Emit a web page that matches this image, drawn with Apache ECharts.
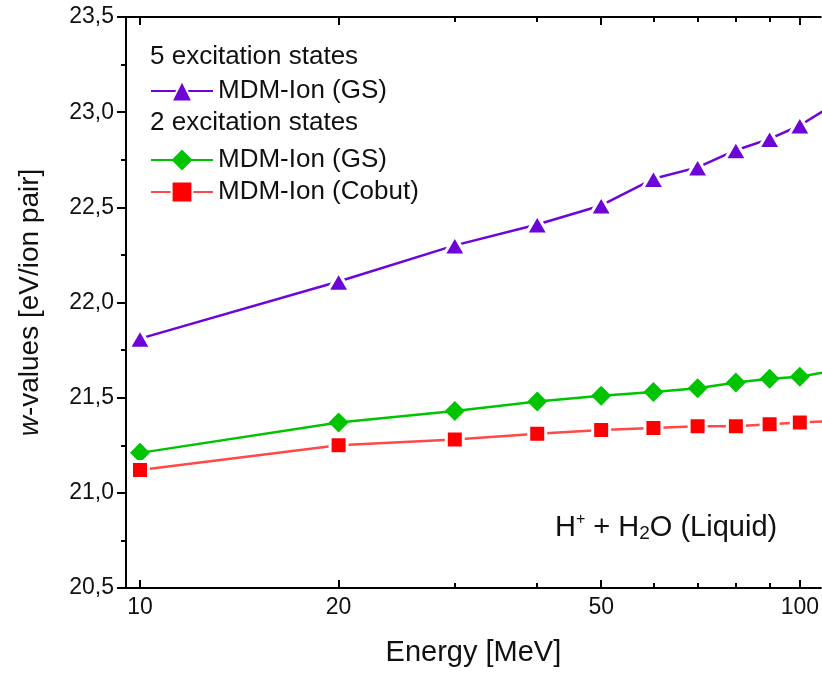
<!DOCTYPE html>
<html>
<head>
<meta charset="utf-8">
<script src="https://cdn.jsdelivr.net/npm/echarts@6/dist/echarts.min.js"></script>
<style>
  html, body { margin: 0; padding: 0; background: #fff; }
  #view { width: 822px; height: 677px; }
</style>
</head>
<body>
<div id="view"></div>
<script>
var energy = [10, 20, 30, 40, 50, 60, 70, 80, 90, 100, 120];
var gs5 = [21.81, 22.11, 22.30, 22.41, 22.51, 22.65, 22.71, 22.80, 22.86, 22.93, 23.10];
var gs2 = [21.21, 21.37, 21.43, 21.48, 21.51, 21.53, 21.55, 21.58, 21.60, 21.61, 21.66];
var cobut2 = [21.12, 21.25, 21.28, 21.31, 21.33, 21.34, 21.35, 21.35, 21.36, 21.37, 21.38];
var majorTicks = [10, 20, 50, 100];
var minorTicks = [30, 40, 60, 70, 80, 90];

var font = 'Liberation Sans, Arial, sans-serif';

function pairs(ys) {
    return energy.map(function (e, i) { return [e, ys[i]]; });
}

var xBase = {
    type: 'log',
    min: 9.524,
    max: 107.6,
    splitLine: { show: false },
    axisLine: { lineStyle: { color: '#000', width: 2 } }
};

option = {
    animation: false,
    grid: {
        left: 126,
        right: 0,
        top: 17,
        bottom: 89
    },
    legend: [{
        data: ['5 states: MDM-Ion (GS)'],
        left: 145,
        top: 73,
        orient: 'vertical',
        itemWidth: 62,
        itemHeight: 26,
        formatter: function (n) { return n.split(': ')[1]; },
        textStyle: { fontSize: 26, color: '#111', fontFamily: font }
    }, {
        data: ['2 states: MDM-Ion (GS)', '2 states: MDM-Ion (Cobut)'],
        left: 145,
        top: 142,
        orient: 'vertical',
        itemGap: 6,
        itemWidth: 62,
        itemHeight: 26,
        formatter: function (n) { return n.split(': ')[1]; },
        textStyle: { fontSize: 26, color: '#111', fontFamily: font }
    }],
    graphic: [
        { type: 'text', left: 150, top: 44, style: { text: '5 excitation states', fontSize: 26, fontFamily: font, fill: '#111' } },
        { type: 'text', left: 150, top: 110, style: { text: '2 excitation states', fontSize: 26, fontFamily: font, fill: '#111' } },
        {
            type: 'text', left: 555, top: 512,
            style: {
                text: 'H{sup|+} + H{sub|2}O (Liquid)',
                fontSize: 29, fontFamily: font, fill: '#111',
                rich: {
                    sup: { fontSize: 16, fontFamily: font, fill: '#111', verticalAlign: 'top', padding: [0, 0, 14, 0] },
                    sub: { fontSize: 19, fontFamily: font, fill: '#111', verticalAlign: 'bottom', padding: [12, 0, 0, 0] }
                }
            }
        }
    ],
    xAxis: [
        Object.assign({}, xBase, {
            position: 'bottom',
            name: 'Energy [MeV]',
            nameLocation: 'middle',
            nameGap: 50,
            nameTextStyle: { fontSize: 29, color: '#111', fontFamily: font },
            axisTick: { inside: true, length: 8, customValues: majorTicks, lineStyle: { color: '#000', width: 2 } },
            axisLabel: { customValues: majorTicks, fontSize: 23, color: '#111', fontFamily: font, margin: 8 }
        }),
        Object.assign({}, xBase, {
            position: 'bottom',
            axisLine: { show: false },
            axisTick: { inside: true, length: 5, customValues: minorTicks, lineStyle: { color: '#000', width: 2 } },
            axisLabel: { show: false }
        }),
        Object.assign({}, xBase, {
            position: 'top',
            axisTick: { inside: true, length: 8, customValues: majorTicks, lineStyle: { color: '#000', width: 2 } },
            axisLabel: { show: false }
        }),
        Object.assign({}, xBase, {
            position: 'top',
            axisLine: { show: false },
            axisTick: { inside: true, length: 5, customValues: minorTicks, lineStyle: { color: '#000', width: 2 } },
            axisLabel: { show: false }
        })
    ],
    yAxis: [{
        type: 'value',
        min: 20.5,
        max: 23.5,
        interval: 0.5,
        splitLine: { show: false },
        axisLine: { show: true, lineStyle: { color: '#000', width: 2 } },
        axisTick: { show: true, length: 9, lineStyle: { color: '#000', width: 2 } },
        minorTick: { show: true, splitNumber: 2, length: 5, lineStyle: { color: '#000', width: 2 } },
        axisLabel: {
            fontSize: 23, color: '#111', fontFamily: font, margin: 12,
            formatter: function (v) { return v.toFixed(1).replace('.', ','); }
        },
        name: '{i|w}-values [eV/ion pair]',
        nameLocation: 'middle',
        nameGap: 82,
        nameTextStyle: {
            fontSize: 28, color: '#111', fontFamily: font,
            rich: { i: { fontSize: 28, color: '#111', fontFamily: font, fontStyle: 'italic' } }
        }
    }],
    series: [{
        name: '5 states: MDM-Ion (GS)',
        type: 'line',
        symbol: 'triangle',
        symbolSize: [22, 19],
        color: '#6d05d8',
        lineStyle: { width: 2.5, color: '#6d05d8' },
        itemStyle: { color: '#6d05d8', borderColor: '#fff', borderWidth: 3 },
        data: pairs(gs5)
    }, {
        name: '2 states: MDM-Ion (GS)',
        type: 'line',
        symbol: 'diamond',
        symbolSize: [20, 20],
        color: '#00c400',
        lineStyle: { width: 2.5, color: '#00c400' },
        itemStyle: { color: '#00c400' },
        data: pairs(gs2)
    }, {
        name: '2 states: MDM-Ion (Cobut)',
        type: 'line',
        symbol: 'rect',
        symbolSize: 17,
        color: '#ff0000',
        lineStyle: { width: 2.5, color: '#ff4848' },
        itemStyle: { color: '#ff0000', borderColor: '#fff', borderWidth: 3 },
        data: pairs(cobut2)
    }]
};

echarts.init(document.getElementById('view')).setOption(option);
</script>
</body>
</html>
